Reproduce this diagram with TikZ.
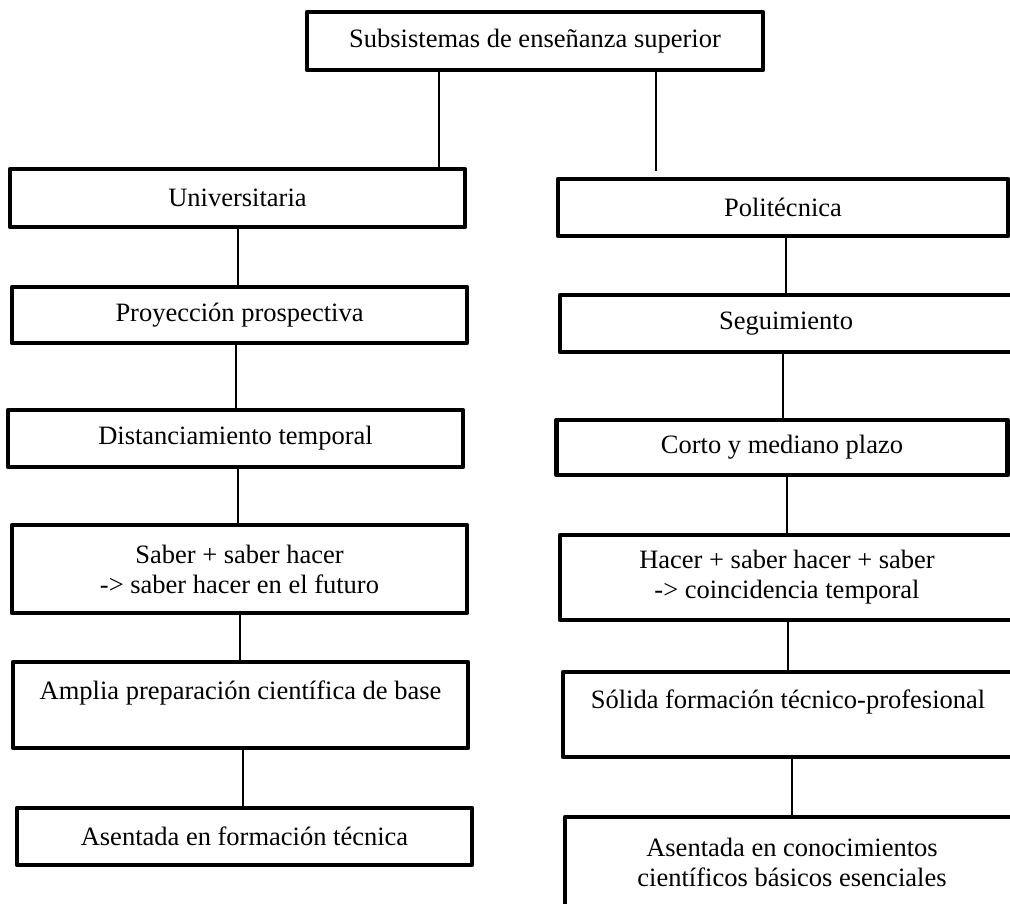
\documentclass[tikz,border=0pt]{standalone}
\usepackage{fontspec}
\setmainfont{Liberation Serif}
\begin{document}
\begin{tikzpicture}[x=1pt,y=-1pt,
  box/.style={draw=black,line width=4.5pt,line join=round,fill=white,
    inner sep=0pt,align=center,font=\fontsize{26.5}{30}\selectfont,
    minimum width=#1},
  box/.default=455pt,
  link/.style={draw=black,line width=2pt}]
\useasboundingbox (0,0) rectangle (1010,903);
\clip (0,0) rectangle (1010,903);
% top
\node[box=456pt,minimum height=58pt] (top) at (535,41) {Subsistemas de enseñanza superior};
% left column
\node[box,minimum height=58pt] (univ) at (237.5,198) {Universitaria};
\node[box,minimum height=56pt] (proy) at (239.5,315) {Proyección prospectiva};
\node[box,minimum height=57pt] (dist) at (235.5,438.5) {Distanciamiento temporal};
\node[box,minimum height=88pt] (saber) at (239.5,569) {Saber + saber hacer\\-> saber hacer en el futuro};
\node[box,minimum height=86pt] (amplia) at (240.5,705) {Amplia preparación científica de base\\~};
\node[box,minimum height=57pt] (asentL) at (244.5,836.5) {Asentada en formación técnica};
% right column
\node[box=450pt,minimum height=57pt] (poli) at (783,207.5) {Politécnica};
\node[box=452pt,minimum height=57pt] (segu) at (786,323.5) {Seguimiento};
\node[box=451pt,minimum height=55pt] (corto) at (782,447.5) {Corto y mediano plazo};
\node[box=454pt,minimum height=85pt] (hacer) at (787,577.5) {Hacer + saber hacer + saber\\-> coincidencia temporal};
\node[box=450pt,minimum height=85pt] (solida) at (788,714.5) {Sólida formación técnico-profesional\\~};
\node[box=454pt,minimum height=91pt] (asentR) at (792,862.5) {Asentada en conocimientos\\científicos básicos esenciales};
% connectors
\coordinate (poliend) at (656,171);
\draw[link] (439,0 |- top.south) -- (439,0 |- univ.north);
\draw[link] (656,0 |- top.south) -- (poliend);
\draw[link] (238,0 |- univ.south) -- (238,0 |- proy.north);
\draw[link] (236,0 |- proy.south) -- (236,0 |- dist.north);
\draw[link] (238,0 |- dist.south) -- (238,0 |- saber.north);
\draw[link] (240,0 |- saber.south) -- (240,0 |- amplia.north);
\draw[link] (243,0 |- amplia.south) -- (243,0 |- asentL.north);
\draw[link] (786,0 |- poli.south) -- (786,0 |- segu.north);
\draw[link] (783,0 |- segu.south) -- (783,0 |- corto.north);
\draw[link] (787,0 |- corto.south) -- (787,0 |- hacer.north);
\draw[link] (788,0 |- hacer.south) -- (788,0 |- solida.north);
\draw[link] (792,0 |- solida.south) -- (792,0 |- asentR.north);
\end{tikzpicture}
\end{document}
